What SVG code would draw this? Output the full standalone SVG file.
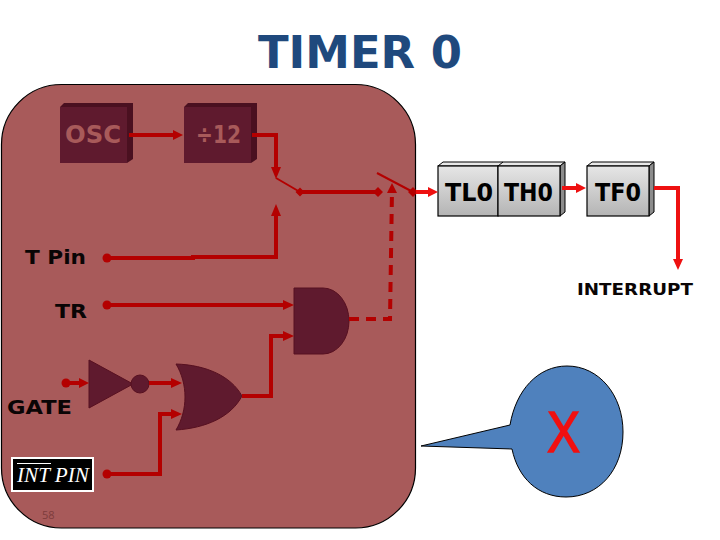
<svg xmlns="http://www.w3.org/2000/svg" width="720" height="540" viewBox="0 0 720 540">
<style>
text{font-family:"DejaVu Sans","Liberation Sans",sans-serif;font-weight:bold}
.lbl{fill:#0a0505;font-size:20px}
.dk{fill:#5f1a2e}
.gate{fill:#5f1a2e;stroke:#571020;stroke-width:1}
.s3{fill:#4a1020}
.dl{fill:#a85a5a;font-size:24px}
.lt{fill:#000;font-size:25px}
.w{fill:none;stroke:#b40000;stroke-width:4}
.wr{fill:none;stroke:#ee1111;stroke-width:4}
.hd{fill:#b40000}
.hr{fill:#ee1111}
.box{fill:url(#g);stroke:#000;stroke-width:1.2}
.sd{fill:#e8e8e8;stroke:#000;stroke-width:1}
.sr{fill:#8c8c8c;stroke:#000;stroke-width:1}
</style>
<defs>
<linearGradient id="g" x1="0" y1="0" x2="0" y2="1"><stop offset="0" stop-color="#e6e6e6"/><stop offset="1" stop-color="#b4b4b4"/></linearGradient>
</defs>
<rect width="720" height="540" fill="#fff"/>
<text x="258" y="68" textLength="204" lengthAdjust="spacingAndGlyphs" font-size="45" fill="#1f497d">TIMER 0</text>
<rect id="panel" x="1.5" y="84.5" width="414" height="443.5" rx="60" ry="60" fill="#a85a5a" stroke="#000" stroke-width="1.2"/>
<g id="osc"><path class="s3" d="M60 107l4-4h69v56l-6 4z"/><rect class="dk" x="60" y="107" width="67" height="56"/><text class="dl" x="65" y="143" textLength="56" lengthAdjust="spacingAndGlyphs">OSC</text></g>
<g id="div12"><path class="s3" d="M184 107l4-4h69v56l-6 4z"/><rect class="dk" x="184" y="107" width="67" height="56"/><text class="dl" x="196" y="143" textLength="45" lengthAdjust="spacingAndGlyphs">÷12</text></g>
<g id="tl0th0">
<path class="sd" d="M438 166l5-4h122l-5 4z"/><path class="sr" d="M560 166l5-4v50l-5 4z"/>
<path d="M498 166l5-4" stroke="#000" fill="none"/>
<rect class="box" x="438" y="166" width="60" height="50"/><rect class="box" x="498" y="166" width="62" height="50"/>
<text class="lt" x="445" y="201" textLength="48" lengthAdjust="spacingAndGlyphs">TL0</text><text class="lt" x="504" y="201" textLength="49" lengthAdjust="spacingAndGlyphs">TH0</text></g>
<g id="tf0"><path class="sd" d="M587 166l5-4h62l-5 4z"/><path class="sr" d="M649 166l5-4v50l-5 4z"/><rect class="box" x="587" y="166" width="62" height="50"/><text class="lt" x="595" y="201" textLength="46" lengthAdjust="spacingAndGlyphs">TF0</text></g>
<g id="and"><path class="gate" d="M294 288h29a26 33 0 0 1 0 66h-29z"/></g>
<g id="not"><path class="gate" d="M89 360l44 24-44 24z"/><circle class="gate" cx="140" cy="384" r="9"/></g>
<g id="or"><path class="gate" d="M176 364c30 1 55 12 66 32c-11 21-36 32-66 34c12-20 12-46 0-66z"/></g>
<g id="connectors">
<path class="w" d="M129 135h44"/><path class="hd" d="M183 135l-10-5v10z"/>
<path class="w" d="M252 135h24v32"/><path class="hd" d="M276 179l-5-12h10z"/>
<path d="M276 178l24 14" fill="none" stroke="#b40000" stroke-width="2"/>
<path class="w" d="M300 192h78"/><path class="hd" d="M300 187.500l4.500 4.500-4.500 4.500-4.500-4.500zM378 187l5 5-5 5-5-5z"/>
<circle class="hd" cx="107" cy="258" r="4.500"/><path class="w" d="M107 258h86v-1h83v-41"/><path class="hd" d="M276 204l-5 12h10z"/>
<path d="M377 173l36 19" fill="none" stroke="#b40000" stroke-width="2"/>
<path class="hd" d="M413 187l5 5-5 5-5-5z"/>
<path class="wr" d="M416 192h12"/><path class="hr" d="M438 192l-10-5v10z"/>
<path d="M349 319h41l2-129" fill="none" stroke="#b40000" stroke-width="4" stroke-dasharray="10 7"/><path class="hd" d="M392 183l-5 10h10z"/>
<path class="wr" d="M562 188h14"/><path class="hr" d="M586 188l-10-5v10z"/>
<path class="wr" d="M654 188h24v72"/><path class="hr" d="M678 270l-5-11h10z"/>
<circle class="hd" cx="107" cy="305" r="4.500"/><path class="w" d="M107 305h176"/><path class="hd" d="M294 305l-11-5v10z"/>
<path class="w" d="M242 396h29v-60h12"/><path class="hd" d="M294 336l-11-5v10z"/>
<circle class="hd" cx="66" cy="383" r="4.500"/><path class="w" d="M66 383h13"/><path class="hd" d="M89 383l-10-5v10z"/>
<path class="w" d="M149 383h22"/><path class="hd" d="M182 383l-11-5v10z"/>
<circle class="hd" cx="107" cy="474" r="4.500"/><path class="w" d="M107 474h53v-60h11"/><path class="hd" d="M182 414l-11-5v10z"/>
</g>
<text class="lbl" x="25" y="264" textLength="61" lengthAdjust="spacingAndGlyphs">T Pin</text>
<text class="lbl" x="55" y="318" textLength="32" lengthAdjust="spacingAndGlyphs">TR</text>
<text class="lbl" x="7" y="414" textLength="65" lengthAdjust="spacingAndGlyphs">GATE</text>
<text x="577" y="295" font-size="15.500" fill="#0a0505" textLength="116" lengthAdjust="spacingAndGlyphs">INTERRUPT</text>
<g id="intpin"><rect x="12" y="458" width="81" height="33" fill="#000" stroke="#fff" stroke-width="2"/><path d="M17 463.500h34" stroke="#fff" stroke-width="1"/><text x="17" y="482" font-size="20" fill="#fff" textLength="72" lengthAdjust="spacingAndGlyphs" style="font-family:'Liberation Serif',serif;font-weight:normal;font-style:italic">INT PIN</text></g>
<text x="42" y="519" font-size="11" fill="#7d3c3c" style="font-weight:normal;font-family:'Open Sans',sans-serif">58</text>
<g id="callout"><path d="M510 425C516 390 538 366 567 366C599 366 623 395 623 432C623 470 599 497 566 497C538 497 518 478 512 449L421 446z" fill="#4f81bd" stroke="#000" stroke-width="1"/>
<text x="547" y="452" font-size="57" fill="#f01010" stroke="#f01010" stroke-width="1.500" textLength="33" lengthAdjust="spacingAndGlyphs" style="font-family:'Liberation Sans',sans-serif;font-weight:normal">X</text></g>
</svg>
